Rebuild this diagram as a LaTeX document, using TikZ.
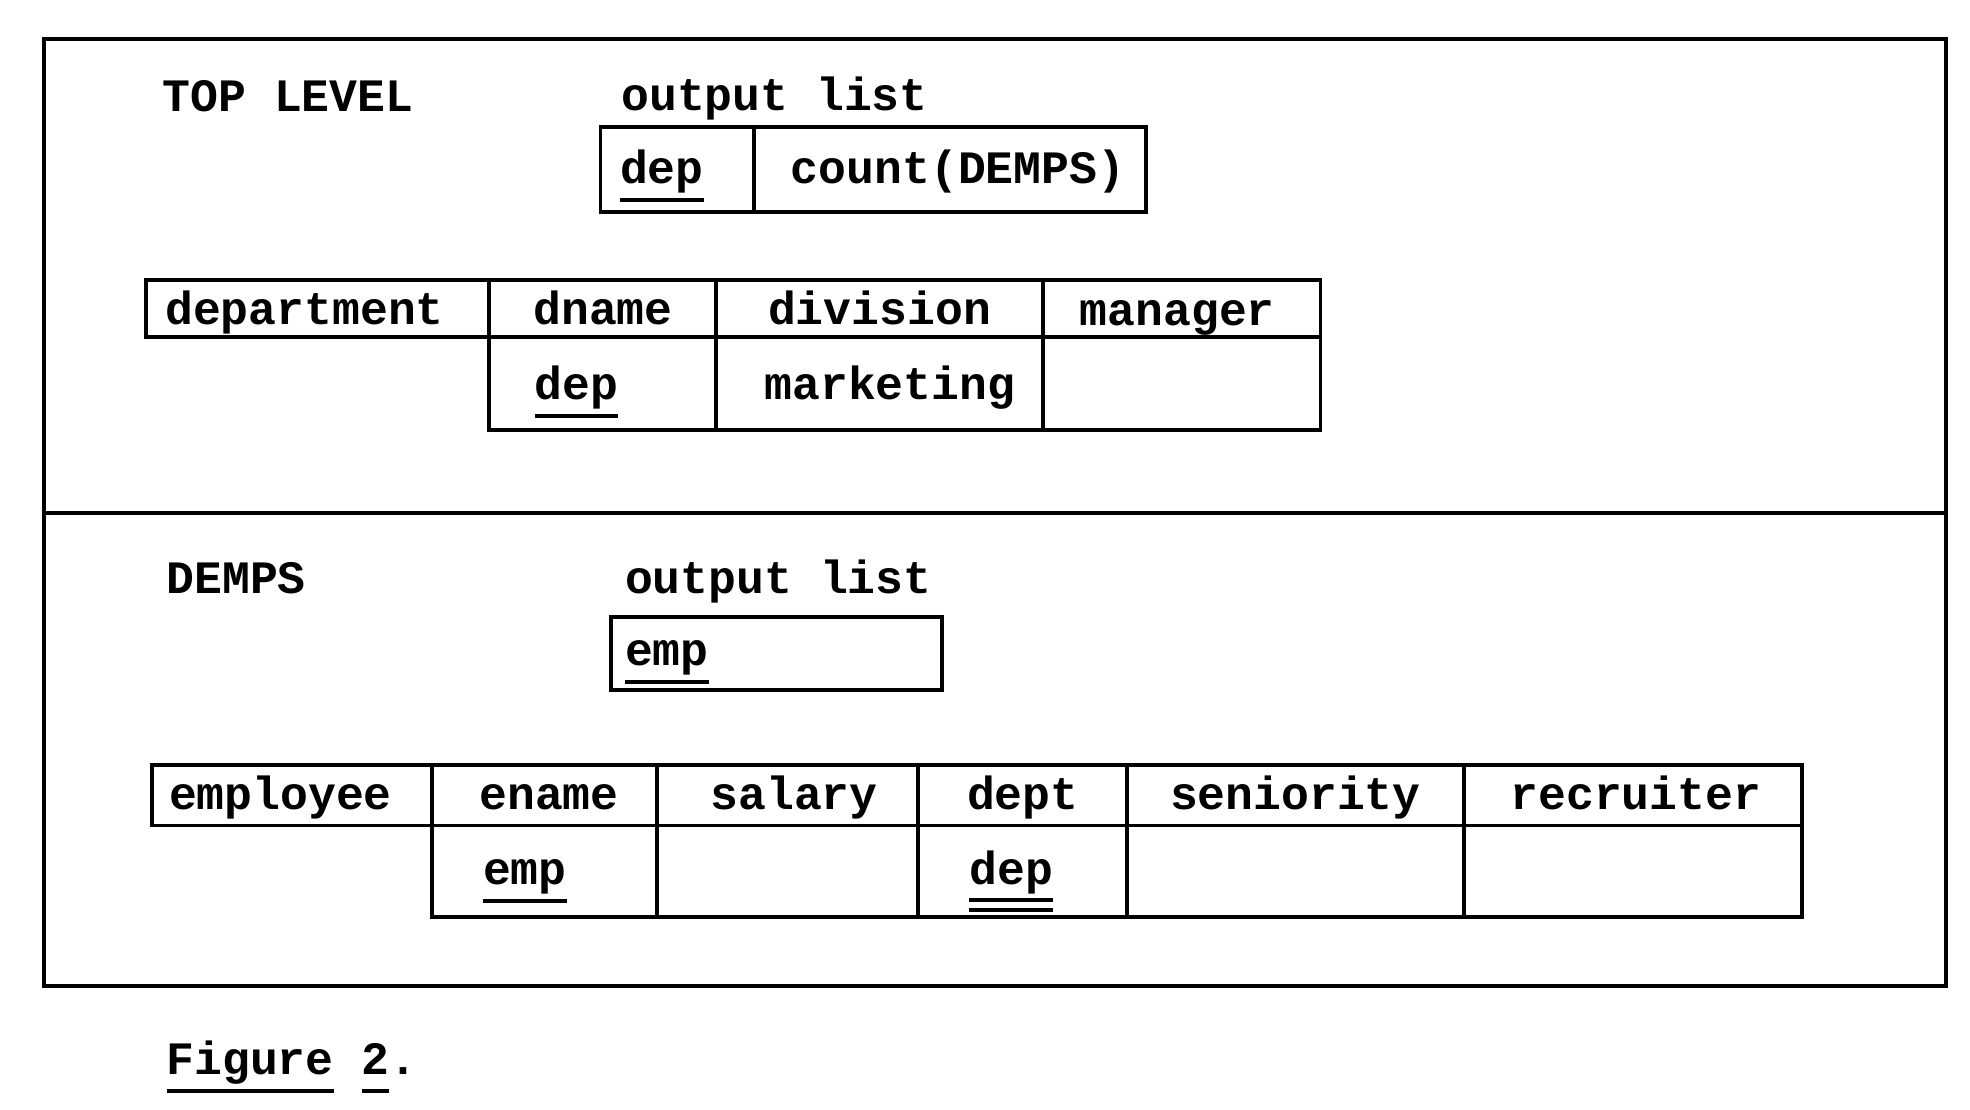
\documentclass[tikz,border=0pt]{standalone}
\usepackage{fontspec}
\newfontfamily\typewriter{Liberation Mono}
\newcommand{\typeul}[1]{\setbox0\hbox{#1}\rlap{\rule[-5.2pt]{\wd0}{1.1pt}}\box0\relax}
\newcommand{\typeuul}[1]{\setbox0\hbox{#1}\rlap{\rule[-5pt]{\wd0}{1.1pt}}\rlap{\rule[-7.8pt]{\wd0}{1.1pt}}\box0\relax}

\begin{document}
\begin{tikzpicture}[
	x=0.01256cm,
	y=-0.01256cm,
	line width=1.1pt
]
\tikzset{
    lbl/.style = {anchor=base west, inner sep=0pt, font=\typewriter\bfseries\fontsize{13.2}{16}\selectfont},
    hdr/.style = {lbl, anchor=base},
}
\useasboundingbox (0,0) rectangle (1568,883);
\draw (35,31) rectangle (1549,785);
\draw (35,408) -- (1549,408);

% top level
\node[lbl] (toplevel) at (128,89) {TOP LEVEL};
\node[lbl] (topout) at (493,88) {output list};
\draw (478,101) rectangle (912,169);
\draw (600,101) -- (600,169);
\node[lbl] (topdep) at (492,146) {\typeul{dep}};
\node[lbl] (topcount) at (628,146) {count(DEMPS)};

\draw (116,223) rectangle (1051,268);
\draw (389,268) rectangle (1051,342);
\foreach \x in {389,570,830} \draw (\x,223) -- (\x,342);
\node[lbl] (department) at (130,258) {department};
\node[hdr] (dname) at (480,258) {dname};
\node[hdr] (division) at (700,258) {division};
\node[hdr] (manager) at (937,259) {manager};
\node[lbl] (dnameval) at (424,318) {\typeul{dep}};
\node[lbl] (divisionval) at (607,318) {marketing};

% demps
\node[lbl] (demps) at (131,472) {DEMPS};
\node[lbl] (dempsout) at (496,472) {output list};
\draw (486,491) rectangle (750,549);
\node[lbl] (dempsemp) at (496,530) {\typeul{emp}};

\draw (121,609) rectangle (1434,657);
\draw (344,657) rectangle (1434,730);
\foreach \x in {344,523,731,897,1165} \draw (\x,609) -- (\x,730);
\node[lbl] (employee) at (133,644) {employee};
\node[hdr] (ename) at (437,644) {ename};
\node[hdr] (salary) at (632,644) {salary};
\node[hdr] (dept) at (814,644) {dept};
\node[hdr] (seniority) at (1031,644) {seniority};
\node[hdr] (recruiter) at (1302,644) {recruiter};
\node[lbl] (enameval) at (383,704) {\typeul{emp}};
\node[lbl] (deptval) at (770,704) {\typeuul{dep}};

\node[lbl] (caption) at (131,855) {\typeul{Figure} \typeul{2}.};
\end{tikzpicture}
\end{document}
